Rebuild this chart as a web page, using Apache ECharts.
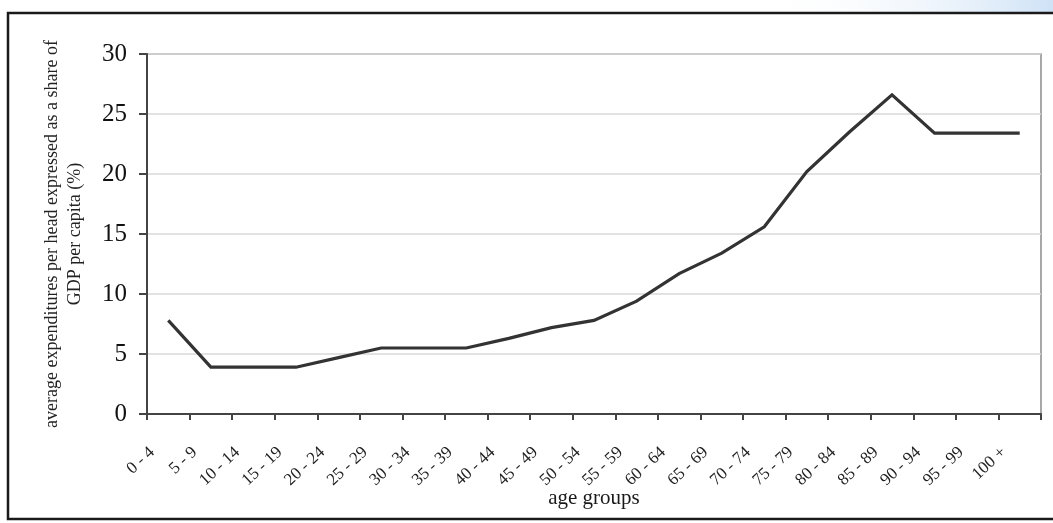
<!DOCTYPE html>
<html>
<head>
<meta charset="utf-8">
<script src="https://cdn.jsdelivr.net/npm/echarts@6/dist/echarts.min.js"></script>
<style>
html,body{margin:0;padding:0;background:#fff;}
#chart{width:1053px;height:523px;}
</style>
</head>
<body>
<div id="chart"></div>
<script>
var ageGroups = ['0 - 4','5 - 9','10 - 14','15 - 19','20 - 24','25 - 29','30 - 34','35 - 39','40 - 44','45 - 49','50 - 54','55 - 59','60 - 64','65 - 69','70 - 74','75 - 79','80 - 84','85 - 89','90 - 94','95 - 99','100 +'];
var expenditureShare = [7.8, 3.9, 3.9, 3.9, 4.7, 5.5, 5.5, 5.5, 6.3, 7.2, 7.8, 9.4, 11.7, 13.4, 15.6, 20.2, 23.5, 26.6, 23.4, 23.4, 23.4];
var yTicks = [0, 5, 10, 15, 20, 25, 30];

var chart = echarts.init(document.getElementById('chart'));
var serif = '"Liberation Serif", "Times New Roman", serif';
chart.setOption({
  animation: false,
  backgroundColor: '#ffffff',
  graphic: [
    {
      type: 'rect', silent: true, z: -10,
      shape: {x: 760, y: 0, width: 293, height: 12},
      style: {fill: new echarts.graphic.LinearGradient(0, 0, 1, 0, [
        {offset: 0, color: 'rgba(255,255,255,0)'},
        {offset: 1, color: '#cfe2f6'}
      ])}
    },
    {
      type: 'rect', silent: true, z: -5,
      shape: {x: 8, y: 13, width: 1060, height: 506},
      style: {fill: 'none', stroke: '#1a1a1a', lineWidth: 2.5}
    }
  ],
  grid: {
    left: 147, right: 12, top: 54, bottom: 109,
    outerBoundsMode: 'none',
    containLabel: false,
    show: true, borderColor: '#8c8c8c', borderWidth: 1.5, backgroundColor: 'transparent'
  },
  xAxis: {
    type: 'category',
    data: ageGroups,
    boundaryGap: true,
    name: 'age groups',
    nameLocation: 'middle',
    nameGap: 74,
    nameMoveOverlap: false,
    nameTextStyle: {fontFamily: serif, fontSize: 21, color: '#1a1a1a'},
    axisLine: {lineStyle: {color: '#444', width: 2}},
    axisTick: {show: true, alignWithLabel: false, length: 6, lineStyle: {color: '#444', width: 2}},
    axisLabel: {
      interval: 0, rotate: 43, margin: 21,
      fontFamily: serif, fontSize: 17, color: '#222',
      padding: [0, 22, 0, 0]
    },
    splitLine: {show: false}
  },
  yAxis: {
    type: 'value',
    min: 0, max: 30, interval: 5,
    name: 'average expenditures per head expressed as a share of\nGDP per capita (%)',
    nameLocation: 'middle',
    nameRotate: 90,
    nameGap: 60,
    nameMoveOverlap: false,
    nameTextStyle: {fontFamily: serif, fontSize: 18, color: '#222', lineHeight: 23, align: 'center'},
    axisLine: {show: true, lineStyle: {color: '#444', width: 2}},
    axisTick: {show: true, length: 8, lineStyle: {color: '#444', width: 2}},
    axisLabel: {
      margin: 20, fontFamily: serif, fontSize: 25, color: '#111',
      formatter: function (v) { return yTicks.indexOf(v) >= 0 ? String(v) : ''; }
    },
    splitLine: {show: true, lineStyle: {color: '#d9d9d9', width: 1.5}}
  },
  series: [{
    type: 'line',
    data: expenditureShare,
    symbol: 'none',
    lineStyle: {color: '#333333', width: 3.2, join: 'miter'},
    z: 5
  }]
});
</script>
</body>
</html>
